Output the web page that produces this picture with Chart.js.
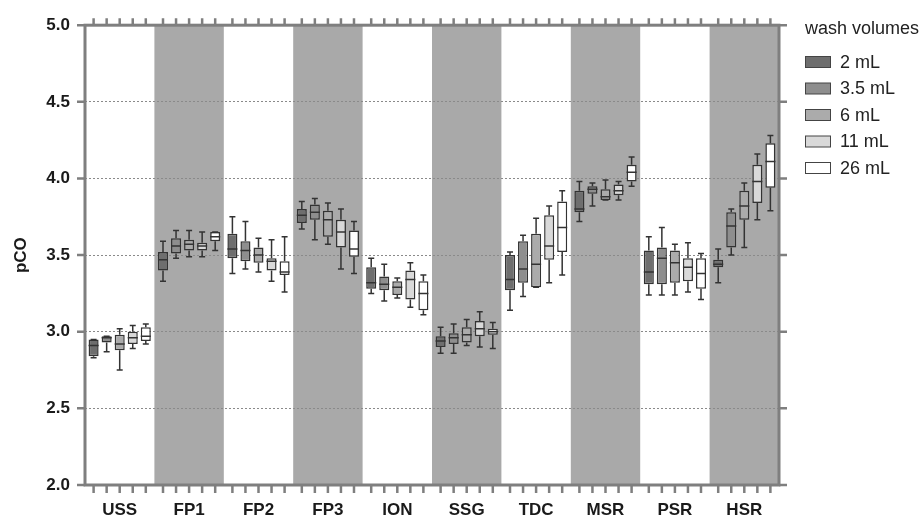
<!DOCTYPE html>
<html>
<head>
<meta charset="utf-8">
<script src="https://cdn.jsdelivr.net/npm/chart.js@4/dist/chart.umd.min.js"></script>
<style>
  html, body { margin: 0; padding: 0; background: #fff; }
</style>
</head>
<body>
<canvas id="pcoChart" width="923" height="516"></canvas>
<script>
const categories = ["USS", "FP1", "FP2", "FP3", "ION", "SSG", "TDC", "MSR", "PSR", "HSR"];
const shadedCategories = ["FP1", "FP3", "SSG", "MSR", "HSR"];
const seriesLabels = ["2 mL", "3.5 mL", "6 mL", "11 mL", "26 mL"];
const legendTitle = "wash volumes";
const yTicks = [2.0, 2.5, 3.0, 3.5, 4.0, 4.5, 5.0];

// each entry: [min, q1, median, q3, max], one per category
const wash2 = [
  [2.83, 2.84, 2.91, 2.95, 2.95], [3.33, 3.40, 3.47, 3.52, 3.59], [3.38, 3.48, 3.54, 3.64, 3.75],
  [3.67, 3.71, 3.76, 3.80, 3.85], [3.25, 3.28, 3.32, 3.42, 3.48], [2.86, 2.90, 2.94, 2.97, 3.03],
  [3.14, 3.27, 3.34, 3.50, 3.52], [3.72, 3.78, 3.80, 3.92, 3.98], [3.24, 3.31, 3.39, 3.53, 3.62],
  [3.32, 3.42, 3.44, 3.47, 3.54]
];
const wash35 = [
  [2.87, 2.93, 2.96, 2.97, 2.97], [3.48, 3.51, 3.56, 3.61, 3.66], [3.41, 3.46, 3.53, 3.59, 3.72],
  [3.60, 3.73, 3.78, 3.83, 3.87], [3.20, 3.27, 3.31, 3.36, 3.44], [2.86, 2.92, 2.96, 2.99, 3.05],
  [3.23, 3.32, 3.41, 3.59, 3.63], [3.82, 3.90, 3.93, 3.95, 3.97], [3.24, 3.31, 3.48, 3.55, 3.68],
  [3.50, 3.55, 3.69, 3.78, 3.80]
];
const wash6 = [
  [2.75, 2.88, 2.92, 2.98, 3.02], [3.49, 3.53, 3.57, 3.60, 3.66], [3.39, 3.45, 3.50, 3.55, 3.61],
  [3.57, 3.62, 3.73, 3.79, 3.84], [3.22, 3.24, 3.29, 3.33, 3.35], [2.91, 2.93, 2.98, 3.03, 3.08],
  [3.29, 3.29, 3.44, 3.64, 3.74], [3.86, 3.86, 3.88, 3.93, 3.99], [3.24, 3.32, 3.45, 3.53, 3.57],
  [3.55, 3.73, 3.82, 3.92, 3.97]
];
const wash11 = [
  [2.89, 2.92, 2.96, 3.00, 3.04], [3.49, 3.53, 3.56, 3.58, 3.65], [3.33, 3.40, 3.46, 3.48, 3.60],
  [3.41, 3.55, 3.65, 3.73, 3.80], [3.16, 3.21, 3.34, 3.40, 3.45], [2.90, 2.97, 3.02, 3.07, 3.13],
  [3.32, 3.47, 3.56, 3.76, 3.82], [3.86, 3.89, 3.92, 3.96, 3.98], [3.26, 3.33, 3.42, 3.48, 3.58],
  [3.73, 3.84, 3.98, 4.09, 4.16]
];
const wash26 = [
  [2.92, 2.94, 2.97, 3.03, 3.05], [3.53, 3.59, 3.62, 3.65, 3.65], [3.26, 3.37, 3.39, 3.46, 3.62],
  [3.38, 3.49, 3.54, 3.66, 3.72], [3.11, 3.14, 3.25, 3.33, 3.37], [2.89, 2.98, 3.00, 3.02, 3.06],
  [3.37, 3.52, 3.68, 3.85, 3.92], [3.95, 3.98, 4.04, 4.09, 4.14], [3.21, 3.28, 3.38, 3.48, 3.51],
  [3.79, 3.94, 4.11, 4.23, 4.28]
];

const seriesStats = [wash2, wash35, wash6, wash11, wash26];
const boxColors = ["#6e6e6e", "#8e8e8e", "#ababab", "#d9d9d9", "#ffffff"];
const frameColor = "#7f7f7f";
const inkColor = "#333333";
const fontFamily = '"Liberation Sans", Arial, sans-serif';

// shaded bands, whiskers, medians, frame, tick marks and the legend
const boxPlotPlugin = {
  id: "boxPlot",
  beforeDraw(chart) {
    const { ctx, chartArea: a, scales: { x } } = chart;
    const half = (a.right - a.left) / categories.length / 2;
    ctx.save();
    ctx.fillStyle = "#a9a9a9";
    categories.forEach((c, i) => {
      if (!shadedCategories.includes(c)) return;
      const cx = x.getPixelForValue(i);
      ctx.fillRect(cx - half, a.top, half * 2, a.bottom - a.top);
    });
    ctx.restore();
  },
  afterDatasetsDraw(chart) {
    const { ctx, scales: { y } } = chart;
    ctx.save();
    ctx.strokeStyle = inkColor;
    ctx.lineWidth = 1.5;
    chart.data.datasets.forEach((ds, di) => {
      const meta = chart.getDatasetMeta(di);
      meta.data.forEach((bar, i) => {
        const [lo, q1, med, q3, hi] = seriesStats[di][i];
        const bx = bar.x, hw = bar.width / 2, cap = 3;
        ctx.beginPath();
        ctx.moveTo(bx, y.getPixelForValue(q3));
        ctx.lineTo(bx, y.getPixelForValue(hi));
        ctx.moveTo(bx - cap, y.getPixelForValue(hi));
        ctx.lineTo(bx + cap, y.getPixelForValue(hi));
        ctx.moveTo(bx, y.getPixelForValue(q1));
        ctx.lineTo(bx, y.getPixelForValue(lo));
        ctx.moveTo(bx - cap, y.getPixelForValue(lo));
        ctx.lineTo(bx + cap, y.getPixelForValue(lo));
        ctx.moveTo(bx - hw, y.getPixelForValue(med));
        ctx.lineTo(bx + hw, y.getPixelForValue(med));
        ctx.stroke();
      });
    });
    ctx.restore();
  },
  afterDraw(chart) {
    const { ctx, chartArea: a, scales: { y } } = chart;
    ctx.save();
    ctx.strokeStyle = frameColor;
    ctx.lineWidth = 3;
    ctx.strokeRect(a.left, a.top, a.right - a.left, a.bottom - a.top);

    ctx.lineWidth = 2.5;
    ctx.beginPath();
    yTicks.forEach(v => {
      const py = y.getPixelForValue(v);
      ctx.moveTo(a.left - 8, py); ctx.lineTo(a.left, py);
      ctx.moveTo(a.right, py); ctx.lineTo(a.right + 8, py);
    });
    chart.data.datasets.forEach((ds, di) => {
      chart.getDatasetMeta(di).data.forEach(bar => {
        ctx.moveTo(bar.x, a.top - 7); ctx.lineTo(bar.x, a.top);
        ctx.moveTo(bar.x, a.bottom); ctx.lineTo(bar.x, a.bottom + 8);
      });
    });
    ctx.stroke();

    // legend
    ctx.fillStyle = "#222";
    ctx.textBaseline = "middle";
    ctx.textAlign = "left";
    ctx.font = "18px " + fontFamily;
    ctx.fillText(legendTitle, 805, 29);
    ctx.lineWidth = 1;
    ctx.strokeStyle = "#444";
    chart.data.datasets.forEach((ds, i) => {
      const ly = 62 + i * 26.5;
      ctx.fillStyle = ds.backgroundColor;
      ctx.fillRect(805.5, ly - 5.5, 25, 11);
      ctx.strokeRect(805.5, ly - 5.5, 25, 11);
      ctx.fillStyle = "#222";
      ctx.fillText(ds.label, 840, ly + 1);
    });
    ctx.restore();
  }
};

const datasets = seriesLabels.map((label, i) => ({
  label: label,
  data: seriesStats[i].map(s => [s[1], s[3]]),
  backgroundColor: boxColors[i],
  borderColor: inkColor,
  borderWidth: 1.5,
  borderSkipped: false,
  categoryPercentage: 0.94,
  barPercentage: 0.77
}));

new Chart(document.getElementById("pcoChart"), {
  type: "bar",
  data: { labels: categories, datasets: datasets },
  options: {
    responsive: false,
    animation: false,
    layout: { padding: { top: 23, right: 144, bottom: 0, left: 0 } },
    plugins: {
      legend: { display: false },
      tooltip: { enabled: false }
    },
    scales: {
      x: {
        grid: { display: false },
        border: { display: false },
        ticks: { color: "#1a1a1a", padding: 7, font: { family: fontFamily, size: 17, weight: "bold" } },
        afterFit(s) { s.height = 31; }
      },
      y: {
        min: 2,
        max: 5,
        afterBuildTicks(s) { s.ticks = yTicks.map(v => ({ value: v })); },
        ticks: {
          color: "#1a1a1a",
          padding: 15,
          font: { family: fontFamily, size: 17, weight: "bold" },
          callback: v => Number(v).toFixed(1)
        },
        grid: {
          drawTicks: false,
          lineWidth: 1,
          color: c => (c.tick && (c.tick.value === 2 || c.tick.value === 5)) ? "rgba(0,0,0,0)" : "#8a8a8a"
        },
        border: { display: false, dash: [2, 2] },
        title: {
          display: true,
          text: "pCO",
          color: "#1a1a1a",
          padding: { top: 11, bottom: 0 },
          font: { family: fontFamily, size: 17, weight: "bold" }
        },
        afterFit(s) { s.width = 85; }
      }
    }
  },
  plugins: [boxPlotPlugin]
});
</script>
</body>
</html>
